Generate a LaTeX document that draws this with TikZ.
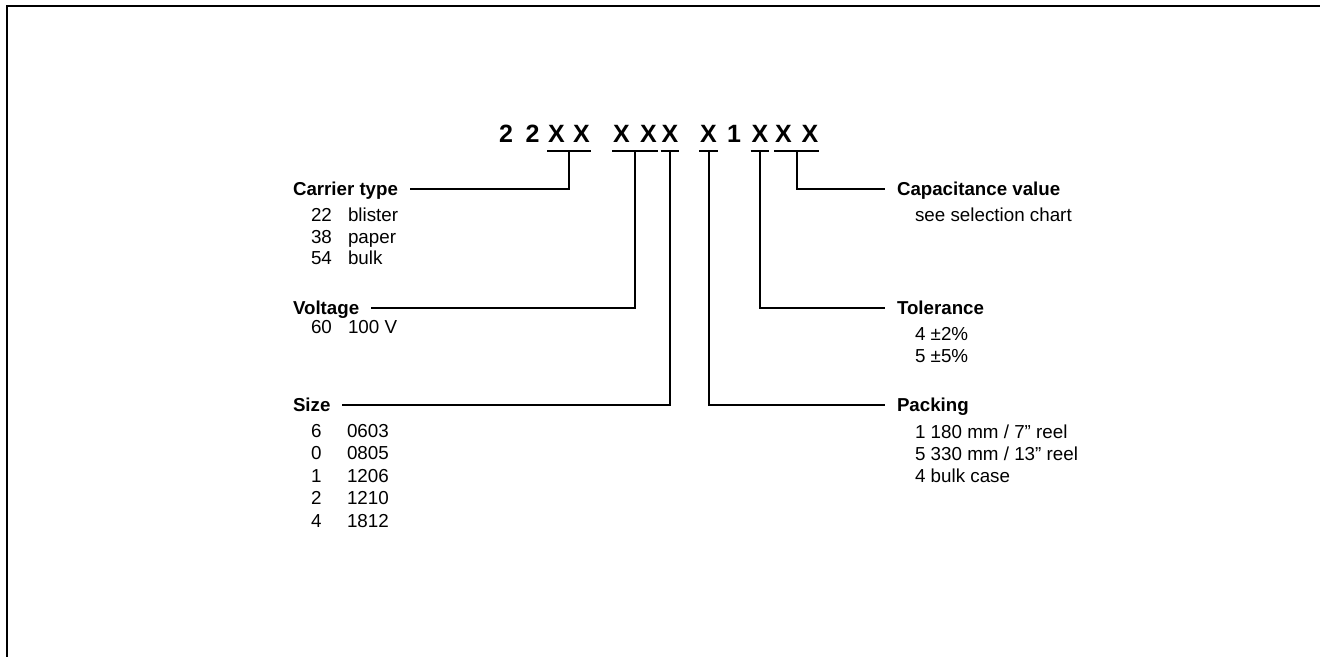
\documentclass[tikz,border=0pt]{standalone}
\usepackage{fontspec}
\setmainfont{Liberation Sans}
\usetikzlibrary{calc}
\begin{document}
\begin{tikzpicture}[x=0.5pt,y=-0.5pt,line width=1pt,
    code/.style={font=\fontsize{12.5}{15}\selectfont\bfseries,inner sep=0pt,anchor=base},
    heading/.style={font=\fontsize{9.35}{11}\selectfont\bfseries,inner xsep=5.5pt,inner ysep=0pt,
        text height=6.7pt,text depth=0pt,anchor=west},
    entry/.style={font=\fontsize{9.4}{11}\selectfont,inner sep=0pt,anchor=base west}]
            \useasboundingbox (0,0) rectangle (1320,657);
            \draw (7,657) -- (7,6) -- (1320,6);

            \begin{scope}[every node/.style={code}]
                \foreach \x/\c [count=\i] in {506/2,532.5/2,556.5/X,581.5/X,621.5/X,648.5/X,
                        670/X,708.5/X,734/1,760/X,783.5/X,810/X}
                    \node (c\i) at (\x,143) {\c};
            \end{scope}

            \begin{scope}[every node/.style={heading}]
                \node (carrier) at (281,189) {Carrier type};
                \node (voltage) at (281,308) {Voltage};
                \node (size) at (281,405) {Size};
                \node (capacitance) at (885,189) {Capacitance value};
                \node (tolerance) at (885,308) {Tolerance};
                \node (packing) at (885,405) {Packing};
            \end{scope}

            \begin{scope}[every node/.style={entry}]
                \foreach \n/\v [count=\i] in {22/blister,38/paper,54/bulk} {
                    \node (ct\i) at (310,{222+21.5*(\i-1)}) {\n};
                    \node (ctv\i) at (347,{222+21.5*(\i-1)}) {\v};
                }
                \node (vo1) at (310,333) {60};
                \node (vov1) at (347,333) {100 V};
                \foreach \n/\v [count=\i] in {6/0603,0/0805,1/1206,2/1210,4/1812} {
                    \node (sz\i) at (310,{437+22.5*(\i-1)}) {\n};
                    \node (szv\i) at (346,{437+22.5*(\i-1)}) {\v};
                }
                \node (cap1) at (914,222) {see selection chart};
                \node (tol1) at (914,340) {4 ±2\%};
                \node (tol2) at (914,362.5) {5 ±5\%};
                \node (pk1) at (914,438) {1 180 mm / 7” reel};
                \node (pk2) at (914,460) {5 330 mm / 13” reel};
                \node (pk3) at (914,482) {4 bulk case};
            \end{scope}

            \begin{scope}
                \foreach \a/\b/\t in {3/4/carrier,5/6/voltage,7/7/size,8/8/packing,10/10/tolerance,11/12/capacitance} {
                    \draw ([yshift=-4pt]c\a.base west) coordinate (l\a) -- ([yshift=-4pt]c\b.base east) coordinate (r\a);
                    \draw ($(l\a)!0.5!(r\a)$) |- (\t);
                }
            \end{scope}
            \end{tikzpicture}
\end{document}
